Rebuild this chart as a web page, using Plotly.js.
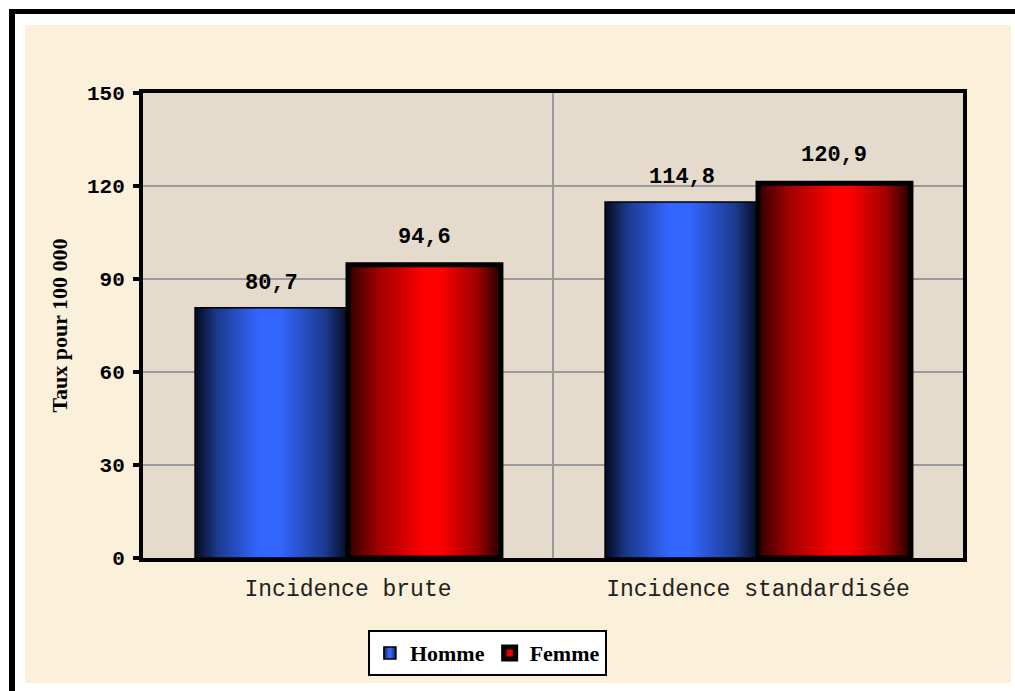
<!DOCTYPE html>
<html>
<head>
<meta charset="utf-8">
<script src="https://cdn.plot.ly/plotly-3.0.1.min.js"></script>
<style>
  html, body { margin: 0; padding: 0; background: #ffffff; }
  #wrap { position: relative; width: 1015px; height: 691px; overflow: hidden; }
  #frame { position: absolute; left: 9px; top: 9px; width: 1006px; height: 682px;
           border-top: 5px solid #000; border-left: 6px solid #000; box-sizing: border-box; }
  #parch { position: absolute; left: 25px; top: 25px; width: 986px; height: 658px; background: #fbf0d9; }
  #chart { position: absolute; left: 0; top: 0; width: 1015px; height: 691px; }
</style>
</head>
<body>
<div id="wrap">
  <div id="frame"></div>
  <div id="parch"></div>
  <div id="chart"></div>
</div>
<script>
const categories = ["Incidence brute", "Incidence standardisée"];
const homme = [80.7, 114.8];
const femme = [94.6, 120.9];
const seriesNames = ["Homme", "Femme"];
const yTicks = [0, 30, 60, 90, 120, 150];

const bargap = 0.254;
const half = (1 - bargap) / 2;
const fmt = v => v.toFixed(1).replace('.', ',');
const monoBold = { family: 'Liberation Mono, Courier New, monospace', size: 22, color: '#000', weight: 'bold' };

const traces = [
  { type: 'bar', name: seriesNames[0], x: categories, y: homme,
    marker: { color: '#3366ff', line: { color: '#000000', width: 1.5 } }, hoverinfo: 'none' },
  { type: 'bar', name: seriesNames[1], x: categories, y: femme,
    marker: { color: '#ff0000', line: { color: '#000000', width: 5 } }, hoverinfo: 'none' }
];

const annotations = [];
categories.forEach((c, i) => {
  annotations.push({ x: i - half / 2, y: homme[i], xref: 'x', yref: 'y', text: fmt(homme[i]),
    showarrow: false, yanchor: 'bottom', yshift: 10, font: monoBold });
  annotations.push({ x: i + half / 2, y: femme[i], xref: 'x', yref: 'y', text: fmt(femme[i]),
    showarrow: false, yanchor: 'bottom', yshift: 13, font: monoBold });
});

const layout = {
  width: 1015, height: 691,
  margin: { l: 143, r: 52, t: 93, b: 133, pad: 0 },
  paper_bgcolor: 'rgba(0,0,0,0)',
  plot_bgcolor: '#e4dbcc',
  barmode: 'group', bargap: bargap, bargroupgap: 0,
  showlegend: true,
  legend: { orientation: 'h', x: 0.42, xanchor: 'center', y: -0.155, yanchor: 'top',
    bgcolor: '#ffffff', bordercolor: '#000000', borderwidth: 2,
    font: { family: 'Liberation Serif, Times New Roman, serif', size: 22, color: '#000', weight: 'bold' },
    traceorder: 'normal', itemclick: false },
  xaxis: { type: 'category', showgrid: false, zeroline: false,
    showline: true, linecolor: '#000', linewidth: 4, mirror: true,
    ticks: '', ticklabelstandoff: 6,
    tickfont: { family: 'Liberation Mono, Courier New, monospace', size: 23, color: '#222' },
    fixedrange: true },
  yaxis: { range: [0, 150], tickvals: yTicks, ticktext: yTicks.map(String),
    showgrid: true, gridcolor: '#9a9a9a', gridwidth: 2, zeroline: false,
    showline: true, linecolor: '#000', linewidth: 4, mirror: true,
    ticks: 'outside', ticklen: 6, tickwidth: 4, tickcolor: '#000', ticklabelstandoff: 4,
    tickfont: { family: 'Liberation Mono, Courier New, monospace', size: 21, color: '#000', weight: 'bold' },
    title: { text: 'Taux pour 100 000', standoff: 14,
      font: { family: 'Liberation Serif, Times New Roman, serif', size: 22, color: '#000', weight: 'bold' } },
    fixedrange: true },
  shapes: [
    { type: 'line', xref: 'x', yref: 'paper', x0: 0.5, x1: 0.5, y0: 0, y1: 1,
      line: { color: '#9a9a9a', width: 2 }, layer: 'below' }
  ],
  annotations: annotations
};

Plotly.newPlot('chart', traces, layout, { displayModeBar: false, staticPlot: true }).then(gd => {
  const svg = gd.querySelector('svg.main-svg');
  const defs = svg.querySelector('defs');
  const NS = 'http://www.w3.org/2000/svg';
  function grad(id, stops) {
    const g = document.createElementNS(NS, 'linearGradient');
    g.setAttribute('id', id);
    g.setAttribute('x1', '0'); g.setAttribute('x2', '1');
    g.setAttribute('y1', '0'); g.setAttribute('y2', '0');
    stops.forEach(s => {
      const st = document.createElementNS(NS, 'stop');
      st.setAttribute('offset', s[0]);
      st.setAttribute('stop-color', s[1]);
      g.appendChild(st);
    });
    defs.appendChild(g);
  }
  grad('gBlue', [[0, '#050a20'], [0.15, '#1c3a8f'], [0.42, '#3366ff'], [0.55, '#3366ff'], [0.85, '#1c3a8f'], [1, '#050a20']]);
  grad('gRed', [[0, '#300000'], [0.2, '#a00000'], [0.5, '#ff0000'], [0.6, '#ff0000'], [0.85, '#9a0000'], [1, '#200000']]);
  const ids = ['gBlue', 'gRed'];
  gd.querySelectorAll('.barlayer .trace').forEach((t, i) => {
    t.querySelectorAll('path').forEach(p => { p.style.fill = 'url(#' + ids[i] + ')'; });
  });
  gd.querySelectorAll('.legend .traces').forEach((t, i) => {
    t.querySelectorAll('.legendpoints path').forEach(p => { p.style.fill = 'url(#' + ids[i] + ')'; });
  });
});
</script>
</body>
</html>
